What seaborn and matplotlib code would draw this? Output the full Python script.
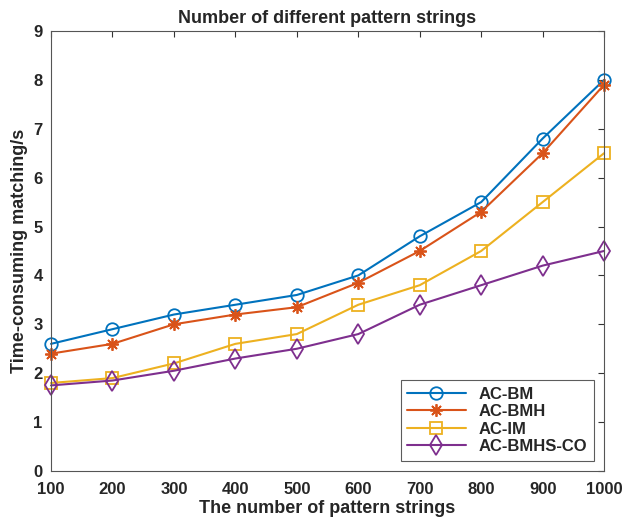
import matplotlib
matplotlib.use("Agg")
import matplotlib.pyplot as plt
import seaborn as sns
import pandas as pd

# data
pattern_counts = [100, 200, 300, 400, 500, 600, 700, 800, 900, 1000]
ac_bm = [2.6, 2.9, 3.2, 3.4, 3.6, 4.0, 4.8, 5.5, 6.8, 8.0]
ac_bmh = [2.4, 2.6, 3.0, 3.2, 3.35, 3.85, 4.5, 5.3, 6.5, 7.9]
ac_im = [1.8, 1.9, 2.2, 2.6, 2.8, 3.4, 3.8, 4.5, 5.5, 6.5]
ac_bmhs_co = [1.75, 1.85, 2.05, 2.3, 2.5, 2.8, 3.4, 3.8, 4.2, 4.5]
methods = ["AC-BM", "AC-BMH", "AC-IM", "AC-BMHS-CO"]

df = pd.DataFrame({"n": pattern_counts * 4,
                   "t": ac_bm + ac_bmh + ac_im + ac_bmhs_co,
                   "method": sum([[m] * len(pattern_counts) for m in methods], [])})

sns.set_style("white")
plt.rcParams["font.family"] = ["Liberation Sans", "DejaVu Sans"]

colors = ["#0072BD", "#D95319", "#EDB120", "#7E2F8E"]
markers = ["o", (8, 2, 0), "s", "d"]   # (8,2,0) = asterisk like matlab '*'
msizes = [9, 9, 8, 10]

fig = plt.figure(figsize=(6.25, 5.27), dpi=100)
ax = fig.add_axes([0.0816, 0.1063, 0.885, 0.835])
for m, c, mk, ms in zip(methods, colors, markers, msizes):
    sub = df[df["method"] == m]
    sns.lineplot(data=sub, x="n", y="t", color=c, marker=mk, markersize=ms,
                 markerfacecolor="none", markeredgecolor=c, markeredgewidth=1.3,
                 linewidth=1.5, label=m, ax=ax, clip_on=False)

ax.set_xlim(100, 1000)
ax.set_ylim(0, 9)
ax.set_xticks(pattern_counts)
ax.set_yticks(range(0, 10))
ax.tick_params(direction="in", length=4, labelsize=12, top=True, right=True,
               color="#333333")
ax.tick_params(axis="x", pad=8)
ax.tick_params(axis="y", pad=6)
for lab in ax.get_xticklabels() + ax.get_yticklabels():
    lab.set_fontweight("bold")
for s in ax.spines.values():
    s.set_color("#555555")
    s.set_linewidth(0.8)

ax.set_xlabel("The number of pattern strings", fontsize=13, fontweight="bold",
              labelpad=2)
ax.set_ylabel("Time-consuming matching/s", fontsize=13, fontweight="bold")
ax.set_title("Number of different pattern strings", fontsize=13, fontweight="bold")

leg = ax.legend(loc="lower right", prop={"weight": "bold", "size": 12},
                fancybox=False, edgecolor="#333333", handlelength=3.5,
                borderaxespad=0.6, labelspacing=0.15)
leg.get_frame().set_linewidth(0.8)

fig.savefig("out.png", dpi=100)
